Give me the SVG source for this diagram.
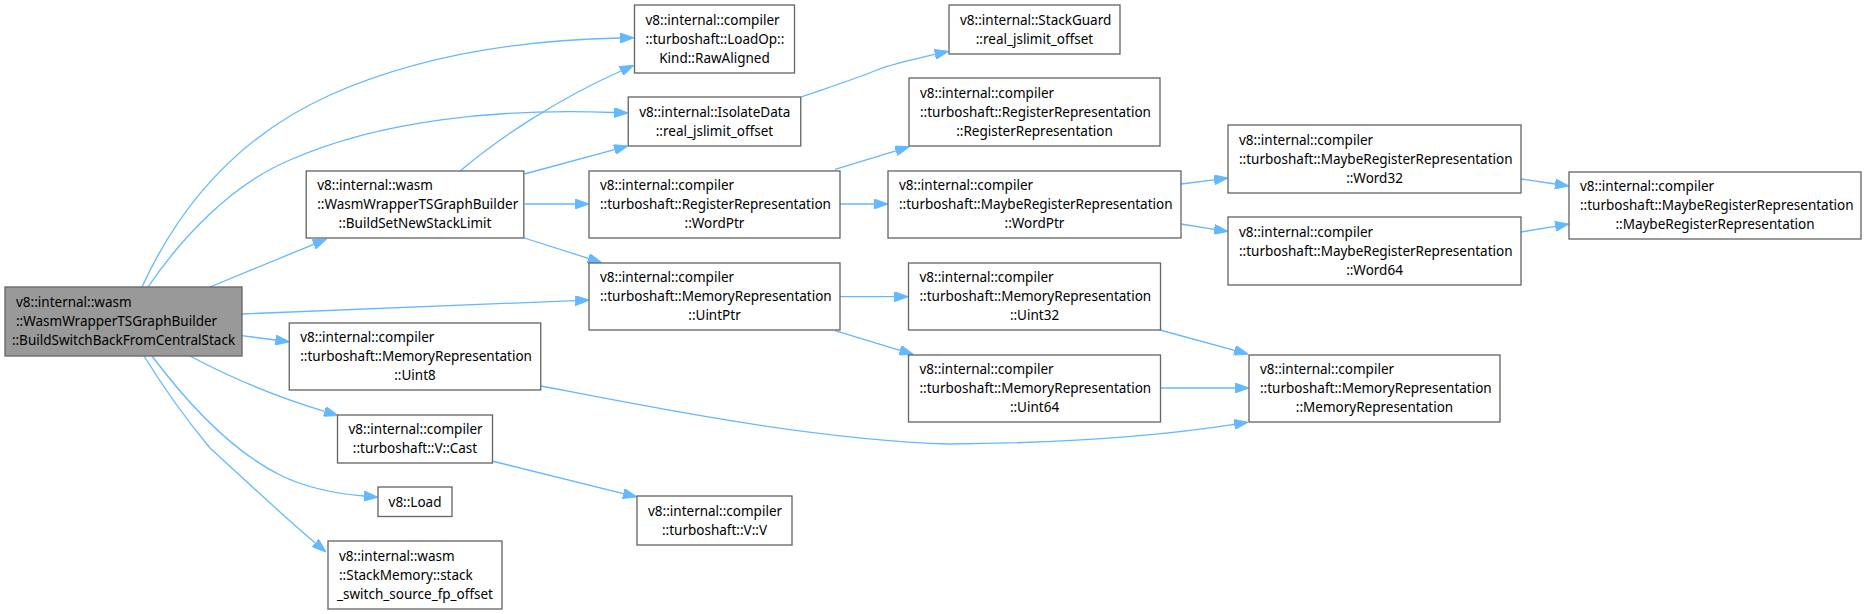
<svg xmlns="http://www.w3.org/2000/svg" width="1867" height="614" viewBox="0 0 1867 614">
<defs>
<style>
.n rect{fill:#ffffff;stroke:#666666;stroke-width:1.33}
.n.main rect{fill:#999999}
.n text{font-family:"Noto Sans","Open Sans","DejaVu Sans",sans-serif;font-size:13.5px;fill:#000000}
.n text.c{text-anchor:middle}
.e path{fill:none;stroke:#63b8ff;stroke-width:1.3;marker-end:url(#ah)}
</style>
<marker id="ah" viewBox="0 0 14 10" refX="0" refY="5" markerWidth="14" markerHeight="10" markerUnits="userSpaceOnUse" orient="auto">
<path d="M0,0 L14,5 L0,10 z" fill="#63b8ff" stroke="#63b8ff" stroke-width="1"/>
</marker>
</defs>
<rect x="0" y="0" width="1867" height="614" fill="#ffffff"/>
<g id="edges" class="e">
<path d="M142,287 C175,215 230,140 330,95 C420,55 520,40 620,38"/>
<path d="M148,287 C180,240 230,185 290,160 C380,120 500,108 614,112.5"/>
<path d="M460,171 C500,137 560,98 621,71"/>
<path d="M524.3,174 L614.5,149.6"/>
<path d="M524.3,204 L575,204"/>
<path d="M524.3,238 L588.3,258.4"/>
<path d="M210,287 L313.7,244.3"/>
<path d="M241.7,314 L575.3,300.6"/>
<path d="M241.7,335.7 L275.4,340"/>
<path d="M190,356 C220,372 270,395 324.6,411.4"/>
<path d="M152,356 C185,400 230,450 280,475 C310,490 340,494 364,496"/>
<path d="M144,356 C165,390 185,418 210,448 C245,480 282,515 315.3,543"/>
<path d="M801,97 C830,87 855,79 877,70 C895,63 915,59 935,54.4"/>
<path d="M835,169.3 L895.9,150.8"/>
<path d="M840,204 L874,204"/>
<path d="M1181,184 L1214.1,179.8"/>
<path d="M1181,224 L1214.2,229.3"/>
<path d="M1521,179 L1555.1,184"/>
<path d="M1521,232 L1555.2,226.3"/>
<path d="M840,296.7 L894.3,296.7"/>
<path d="M835,330.7 L899.9,350.3"/>
<path d="M1160,330 L1234.5,350.3"/>
<path d="M1160,388 L1235,388"/>
<path d="M541,386 C640,405 810,440 950,444 C1070,443 1160,436 1234.3,424.4"/>
<path d="M492,461 L623.4,493.6"/>
</g>
<g id="n_main" class="n main">
<rect x="5" y="287" width="237" height="69"/>
<text x="16" y="307">v8::internal::wasm</text>
<text x="16" y="326">::WasmWrapperTSGraphBuilder</text>
<text class="c" x="123.5" y="345">::BuildSwitchBackFromCentralStack</text>
</g>
<g id="n_bsnsl" class="n">
<rect x="306.2" y="171" width="217.6" height="67"/>
<text x="317.2" y="190">v8::internal::wasm</text>
<text x="317.2" y="209">::WasmWrapperTSGraphBuilder</text>
<text class="c" x="415" y="228">::BuildSetNewStackLimit</text>
</g>
<g id="n_loadop" class="n">
<rect x="634.5" y="5" width="160" height="68"/>
<text x="645.5" y="24.5">v8::internal::compiler</text>
<text x="645.5" y="43.5">::turboshaft::LoadOp::</text>
<text class="c" x="714.5" y="62.5">Kind::RawAligned</text>
</g>
<g id="n_isolate" class="n">
<rect x="628.25" y="97" width="172.5" height="49"/>
<text x="639.25" y="116.5">v8::internal::IsolateData</text>
<text class="c" x="714.5" y="135.5">::real_jslimit_offset</text>
</g>
<g id="n_stackguard" class="n">
<rect x="949" y="5" width="171" height="49"/>
<text x="960" y="24.5">v8::internal::StackGuard</text>
<text class="c" x="1034.5" y="43.5">::real_jslimit_offset</text>
</g>
<g id="n_regrep_rr" class="n">
<rect x="909" y="78" width="251" height="68"/>
<text x="920" y="97.5">v8::internal::compiler</text>
<text x="920" y="116.5">::turboshaft::RegisterRepresentation</text>
<text class="c" x="1034.5" y="135.5">::RegisterRepresentation</text>
</g>
<g id="n_regrep_wp" class="n">
<rect x="589" y="171" width="251" height="67"/>
<text x="600" y="190">v8::internal::compiler</text>
<text x="600" y="209">::turboshaft::RegisterRepresentation</text>
<text class="c" x="714.5" y="228">::WordPtr</text>
</g>
<g id="n_mrr_wp" class="n">
<rect x="888" y="171" width="293" height="67"/>
<text x="899" y="190">v8::internal::compiler</text>
<text x="899" y="209">::turboshaft::MaybeRegisterRepresentation</text>
<text class="c" x="1034.5" y="228">::WordPtr</text>
</g>
<g id="n_word32" class="n">
<rect x="1228" y="125" width="293" height="68"/>
<text x="1239" y="144.5">v8::internal::compiler</text>
<text x="1239" y="163.5">::turboshaft::MaybeRegisterRepresentation</text>
<text class="c" x="1374.5" y="182.5">::Word32</text>
</g>
<g id="n_word64" class="n">
<rect x="1228" y="217" width="293" height="68"/>
<text x="1239" y="236.5">v8::internal::compiler</text>
<text x="1239" y="255.5">::turboshaft::MaybeRegisterRepresentation</text>
<text class="c" x="1374.5" y="274.5">::Word64</text>
</g>
<g id="n_mrr" class="n">
<rect x="1569" y="172" width="292" height="67"/>
<text x="1580" y="191">v8::internal::compiler</text>
<text x="1580" y="210">::turboshaft::MaybeRegisterRepresentation</text>
<text class="c" x="1715" y="229">::MaybeRegisterRepresentation</text>
</g>
<g id="n_uintptr" class="n">
<rect x="589" y="263" width="251" height="67"/>
<text x="600" y="282">v8::internal::compiler</text>
<text x="600" y="301">::turboshaft::MemoryRepresentation</text>
<text class="c" x="714.5" y="320">::UintPtr</text>
</g>
<g id="n_uint32" class="n">
<rect x="908.5" y="263" width="252" height="67"/>
<text x="919.5" y="282">v8::internal::compiler</text>
<text x="919.5" y="301">::turboshaft::MemoryRepresentation</text>
<text class="c" x="1034.5" y="320">::Uint32</text>
</g>
<g id="n_uint64" class="n">
<rect x="908.5" y="355" width="252" height="67"/>
<text x="919.5" y="374">v8::internal::compiler</text>
<text x="919.5" y="393">::turboshaft::MemoryRepresentation</text>
<text class="c" x="1034.5" y="412">::Uint64</text>
</g>
<g id="n_memrep" class="n">
<rect x="1249" y="355" width="251" height="67"/>
<text x="1260" y="374">v8::internal::compiler</text>
<text x="1260" y="393">::turboshaft::MemoryRepresentation</text>
<text class="c" x="1374.5" y="412">::MemoryRepresentation</text>
</g>
<g id="n_uint8" class="n">
<rect x="289.25" y="323" width="251.5" height="67"/>
<text x="300.25" y="342">v8::internal::compiler</text>
<text x="300.25" y="361">::turboshaft::MemoryRepresentation</text>
<text class="c" x="415" y="380">::Uint8</text>
</g>
<g id="n_cast" class="n">
<rect x="337.5" y="415" width="155" height="48"/>
<text x="348.5" y="434">v8::internal::compiler</text>
<text class="c" x="415" y="453">::turboshaft::V::Cast</text>
</g>
<g id="n_load" class="n">
<rect x="378" y="487" width="74" height="29.5"/>
<text class="c" x="415" y="506.5">v8::Load</text>
</g>
<g id="n_stackmem" class="n">
<rect x="328" y="541" width="174" height="68"/>
<text x="339" y="560.5">v8::internal::wasm</text>
<text x="339" y="579.5">::StackMemory::stack</text>
<text class="c" x="415" y="598.5">_switch_source_fp_offset</text>
</g>
<g id="n_vv" class="n">
<rect x="637" y="496" width="155" height="49"/>
<text x="648" y="515.5">v8::internal::compiler</text>
<text class="c" x="714.5" y="534.5">::turboshaft::V::V</text>
</g>
</svg>
